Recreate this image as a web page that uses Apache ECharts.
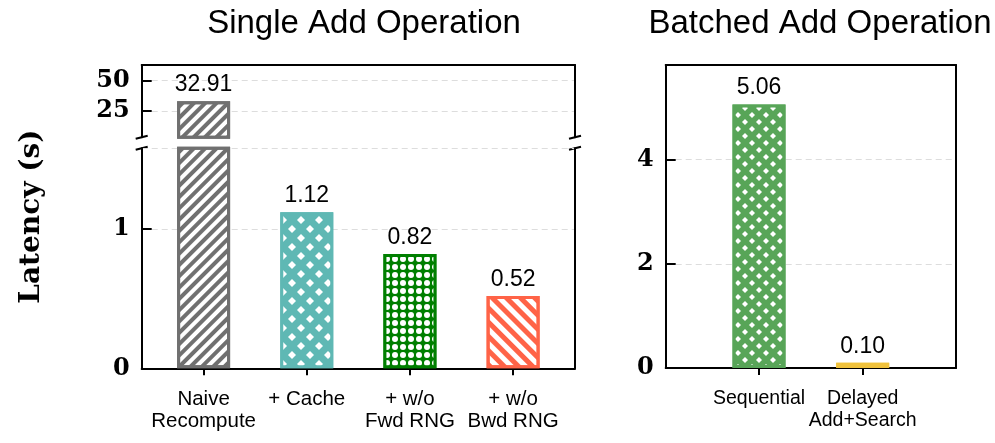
<!DOCTYPE html>
<html><head><meta charset="utf-8">
<script src="https://cdn.jsdelivr.net/npm/echarts@6/dist/echarts.min.js"></script>
<style>html,body{margin:0;padding:0;background:#fff}#c{width:995px;height:443px}</style>
</head><body><div id="c"></div>
<script>
// ---- data ----
const singleCategories = ['Naive\nRecompute', '+ Cache', '+ w/o\nFwd RNG', '+ w/o\nBwd RNG'];
const singleLatency = [32.91, 1.12, 0.82, 0.52];
const batchedCategories = ['Sequential', 'Delayed\nAdd+Search'];
const batchedLatency = [5.06, 0.10];
const topTicks = [25, 50];
const bottomTicksInterval = 1;
const rightTicksInterval = 2;
const topRange = [3.29, 62.53];
const bottomRange = [0, 1.58];
const rightRange = [0, 5.819];
const singleX = [-0.6, 3.6];
const batchedX = [-0.9, 1.9];

// ---- styles ----
const singleStyles = [
  {color:'#ffffff', borderColor:'#707070', borderWidth:3,
   decal:{symbol:'rect', symbolSize:1, color:'#707070', dashArrayX:[1,0], dashArrayY:[3.5,3.5], rotation:-Math.PI/4}},
  {color:'#5fb8b4', borderColor:'#5fb8b4', borderWidth:3,
   decal:{symbol:'diamond', symbolSize:1, color:'#ffffff', dashArrayX:[[8,10],[0,9,8,1]], dashArrayY:[8,1], rotation:0}},
  {color:'#007f00', borderColor:'#007f00', borderWidth:3,
   decal:{symbol:'circle', symbolSize:1, color:'#ffffff', dashArrayX:[5.5,1.5], dashArrayY:[5.5,1.5], rotation:0}},
  {color:'#ffffff', borderColor:'#ff6347', borderWidth:3,
   decal:{symbol:'rect', symbolSize:1, color:'#ff6347', dashArrayX:[1,0], dashArrayY:[4.5,4.5], rotation:Math.PI/4}}
];
const batchedStyles = [
  {color:'#58a558', borderColor:'#58a558', borderWidth:3,
   decal:{symbol:'diamond', symbolSize:1, color:'#ffffff', dashArrayX:[[6,8],[0,7,6,1]], dashArrayY:[6,1], rotation:0}},
  {color:'#f0c23c', borderColor:'#f0c23c', borderWidth:3,
   decal:{symbol:'rect', symbolSize:1, color:'#ffffff', dashArrayX:[7,5], dashArrayY:[2,4], rotation:0}}
];

// ---- layout ----
const L = {x0:141.7, x1:575, topY0:65, topY1:137.3, botY0:148.3, botY1:368.3};
const R = {x0:665.7, x1:956, y0:65, y1:368};

const black = '#000';
const spine = {show:true, onZero:false, lineStyle:{color:black, width:2}};
const serifLabel = {fontFamily:'DejaVu Serif', fontWeight:'bold', fontSize:24, color:black};
const sansLabel = {fontFamily:'Liberation Sans', fontSize:20.5, lineHeight:22, color:black};
const sansLabelRight = {fontFamily:'Liberation Sans', fontSize:19.5, lineHeight:22, color:black};
const valueLabel = {fontFamily:'Liberation Sans', fontSize:23, color:black};
const grid = {color:'#dddddd', type:[6,4], width:1};
const titleStyle = {fontFamily:'Liberation Sans', fontWeight:'normal', fontSize:33, color:black};

function frameAxis(gridIndex, position, min, max) {
  return {type:'value', gridIndex, position, min, max,
    axisLine:spine, axisTick:{show:false}, axisLabel:{show:false}, splitLine:{show:false}};
}

const chart = echarts.init(document.getElementById('c'), null, {renderer:'canvas'});

const option = {
  animation:false,
  backgroundColor:'#ffffff',
  title:[
    {text:'Single Add Operation', left:359, top:2, textAlign:'center', textStyle:titleStyle},
    {text:'Batched Add Operation', left:815, top:2, textAlign:'center', textStyle:titleStyle}
  ],
  grid:[
    {left:L.x0, top:L.topY0, width:L.x1-L.x0, height:L.topY1-L.topY0},
    {left:L.x0, top:L.botY0, width:L.x1-L.x0, height:L.botY1-L.botY0},
    {left:R.x0, top:R.y0, width:R.x1-R.x0, height:R.y1-R.y0}
  ],
  xAxis:[
    frameAxis(0, 'top', singleX[0], singleX[1]),
    {type:'value', gridIndex:1, position:'bottom', min:singleX[0], max:singleX[1],
     axisLine:spine,
     axisTick:{show:true, length:7, customValues:singleCategories.map((c,i)=>i), lineStyle:{color:black, width:2}},
     axisLabel:Object.assign({show:true, margin:20, customValues:singleCategories.map((c,i)=>i),
       formatter:(v)=>singleCategories[Math.round(v)] || ''}, sansLabel),
     splitLine:{show:false}},
    {type:'value', gridIndex:2, position:'bottom', min:batchedX[0], max:batchedX[1],
     axisLine:spine,
     axisTick:{show:true, length:7, customValues:batchedCategories.map((c,i)=>i), lineStyle:{color:black, width:2}},
     axisLabel:Object.assign({show:true, margin:20, customValues:batchedCategories.map((c,i)=>i),
       formatter:(v)=>batchedCategories[Math.round(v)] || ''}, sansLabelRight),
     splitLine:{show:false}},
    frameAxis(2, 'top', batchedX[0], batchedX[1])
  ],
  yAxis:[
    {type:'value', gridIndex:0, position:'left', min:topRange[0], max:topRange[1],
     axisLine:spine,
     axisTick:{show:true, inside:true, length:10, customValues:topTicks, lineStyle:{color:black, width:2}},
     axisLabel:Object.assign({margin:12, customValues:topTicks}, serifLabel),
     splitLine:{show:true, lineStyle:grid}},
    frameAxis(0, 'right', topRange[0], topRange[1]),
    {type:'value', gridIndex:1, position:'left', min:bottomRange[0], max:bottomRange[1], interval:bottomTicksInterval,
     axisLine:spine,
     axisTick:{show:true, inside:true, length:10, lineStyle:{color:black, width:2}},
     axisLabel:Object.assign({margin:12, showMaxLabel:false}, serifLabel),
     splitLine:{show:true, lineStyle:grid}},
    frameAxis(1, 'right', bottomRange[0], bottomRange[1]),
    {type:'value', gridIndex:2, position:'left', min:rightRange[0], max:rightRange[1], interval:rightTicksInterval,
     axisLine:spine,
     axisTick:{show:true, inside:true, length:10, lineStyle:{color:black, width:2}},
     axisLabel:Object.assign({margin:12, showMaxLabel:false}, serifLabel),
     splitLine:{show:true, lineStyle:grid}},
    frameAxis(2, 'right', rightRange[0], rightRange[1])
  ],
  series:[
    {type:'bar', xAxisIndex:0, yAxisIndex:0, barWidth:53, clip:true,
     data:singleLatency.map((v,i)=>({value:[i, v > topRange[0] ? v : null], itemStyle:singleStyles[i]})),
     label:Object.assign({show:true, position:'top', distance:5,
       formatter:(p)=> p.value[1] == null ? '' : p.value[1].toFixed(2)}, valueLabel)},
    {type:'bar', xAxisIndex:1, yAxisIndex:2, barWidth:53, clip:true,
     data:singleLatency.map((v,i)=>({value:[i, v], itemStyle:singleStyles[i]})),
     label:Object.assign({show:true, position:'top', distance:5,
       formatter:(p)=> p.value[1] > bottomRange[1] ? '' : p.value[1].toFixed(2)}, valueLabel)},
    {type:'bar', xAxisIndex:2, yAxisIndex:4, barWidth:53, clip:true,
     data:batchedLatency.map((v,i)=>({value:[i, v], itemStyle:batchedStyles[i]})),
     label:Object.assign({show:true, position:'top', distance:5,
       formatter:(p)=> p.value[1].toFixed(2)}, valueLabel)}
  ],
  graphic:[
    {type:'text', x:32, y:(L.topY0+L.botY1)/2, rotation:Math.PI/2,
     style:{text:'Latency (s)', fontFamily:'DejaVu Serif', fontWeight:'bold', fontSize:28, fill:black,
            textAlign:'center', textVerticalAlign:'middle'}}
  ].concat([L.x0, L.x1].flatMap(x => [
    {type:'line', shape:{x1:x-6, y1:L.topY1+1.5, x2:x+6, y2:L.topY1-1.5}, style:{stroke:black, lineWidth:2}},
    {type:'line', shape:{x1:x-6, y1:L.botY0+1.5, x2:x+6, y2:L.botY0-1.5}, style:{stroke:black, lineWidth:2}}
  ]))
};
chart.setOption(option);
</script>
</body></html>
